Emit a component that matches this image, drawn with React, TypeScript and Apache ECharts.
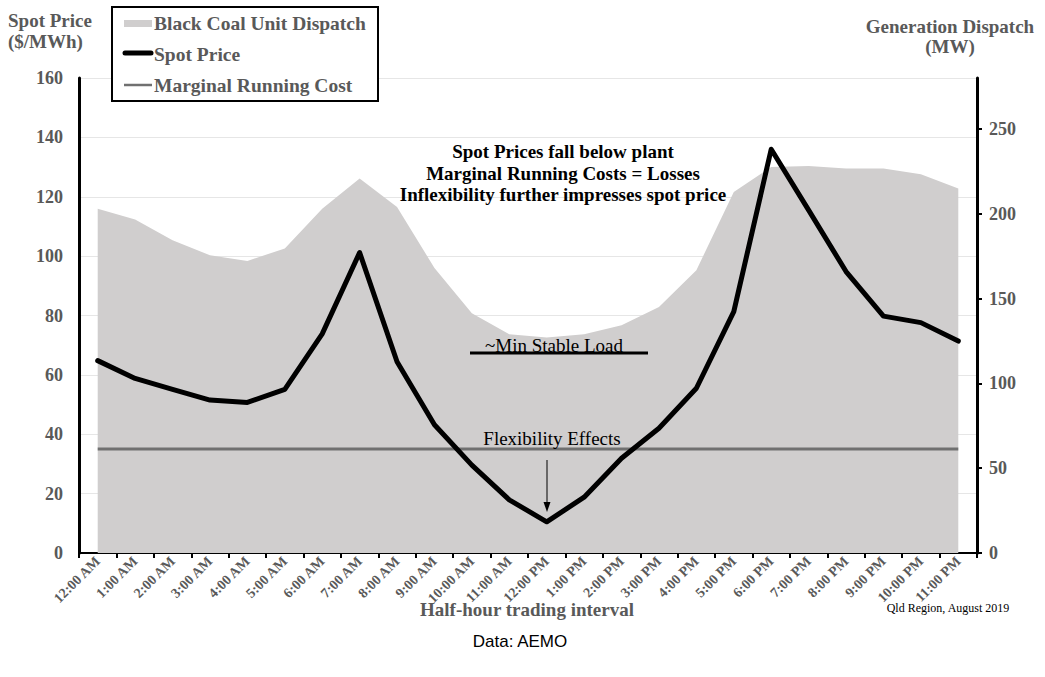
import React, { useEffect, useRef } from "react";
import * as echarts from "echarts";

const hours = [
  "12:00 AM", "1:00 AM", "2:00 AM", "3:00 AM", "4:00 AM", "5:00 AM",
  "6:00 AM", "7:00 AM", "8:00 AM", "9:00 AM", "10:00 AM", "11:00 AM",
  "12:00 PM", "1:00 PM", "2:00 PM", "3:00 PM", "4:00 PM", "5:00 PM",
  "6:00 PM", "7:00 PM", "8:00 PM", "9:00 PM", "10:00 PM", "11:00 PM",
];

// Black coal unit dispatch (MW), right axis
const coalDispatch = [
  203, 196.6, 184.4, 175.5, 172.2, 179.5, 203, 220.7, 204, 168, 141.4, 129,
  127, 129, 134.3, 145, 166.7, 212.8, 227.6, 228.2, 226.6, 226.6, 223.3, 214.8,
];

// Spot price ($/MWh), left axis
const spotPrice = [
  64.8, 58.8, 55.1, 51.5, 50.7, 55.1, 73.8, 101.2, 64.4, 43.2, 29.6, 17.9,
  10.5, 18.8, 31.9, 42, 55.5, 81.3, 136, 115.5, 94.8, 79.8, 77.6, 71.4,
];

// Marginal running cost ($/MWh)
const marginalCost = [
  35, 35, 35, 35, 35, 35, 35, 35, 35, 35, 35, 35,
  35, 35, 35, 35, 35, 35, 35, 35, 35, 35, 35, 35,
];

const leftTicks = [0, 20, 40, 60, 80, 100, 120, 140, 160];
const rightTicks = [0, 50, 100, 150, 200, 250];

const SERIF = "'Times New Roman', 'Liberation Serif', serif";
const GRAY = "#595959";
const AREA = "#d0cece";
const MRC = "#707070";

export default function App() {
  const ref = useRef<HTMLDivElement>(null);
  useEffect(() => {
    if (!ref.current) return;
    const chart = echarts.init(ref.current, undefined, { renderer: "svg" });
    const option: any = {
      animation: false,
      backgroundColor: "#ffffff",
      textStyle: { fontFamily: SERIF },
      grid: { left: 79, right: 68, top: 78, bottom: 124, containLabel: false },
      xAxis: {
        type: "category",
        data: hours,
        boundaryGap: true,
        axisLine: { show: true, lineStyle: { color: "#000", width: 2 } },
        axisTick: { show: true, length: 5, lineStyle: { color: "#000", width: 2 } },
        axisLabel: {
          interval: 0,
          rotate: 45,
          margin: 6,
          color: GRAY,
          fontWeight: "bold",
          fontSize: 14,
          fontFamily: SERIF,
        },
        splitLine: { show: false },
      },
      yAxis: [
        {
          type: "value",
          min: leftTicks[0],
          max: leftTicks[leftTicks.length - 1],
          interval: 20,
          position: "left",
          axisLine: { show: true, lineStyle: { color: "#000", width: 3 } },
          axisTick: { show: false },
          axisLabel: {
            margin: 16,
            color: GRAY,
            fontWeight: "bold",
            fontSize: 18,
            fontFamily: SERIF,
          },
          splitLine: { show: true, lineStyle: { color: "#e6e6e6", width: 1 } },
        },
        {
          type: "value",
          min: 0,
          max: 280,
          interval: 50,
          position: "right",
          axisLine: { show: true, lineStyle: { color: "#000", width: 3 } },
          axisTick: {
            show: true,
            length: 5,
            customValues: rightTicks,
            lineStyle: { color: "#000", width: 2 },
          },
          axisLabel: {
            margin: 12,
            color: GRAY,
            fontWeight: "bold",
            fontSize: 18,
            fontFamily: SERIF,
            customValues: rightTicks,
            formatter: (v: number) => (v % 50 === 0 ? String(v) : ""),
          },
          splitLine: { show: false },
        },
      ],
      series: [
        {
          name: "Black Coal Unit Dispatch",
          type: "line",
          yAxisIndex: 1,
          data: coalDispatch,
          showSymbol: false,
          symbol: "none",
          lineStyle: { width: 0, color: AREA },
          areaStyle: { color: AREA, opacity: 1 },
          z: 1,
        },
        {
          name: "Marginal Running Cost",
          type: "line",
          yAxisIndex: 0,
          data: marginalCost,
          showSymbol: false,
          symbol: "none",
          lineStyle: { width: 3, color: MRC },
          z: 2,
        },
        {
          name: "Spot Price",
          type: "line",
          yAxisIndex: 0,
          data: spotPrice,
          showSymbol: false,
          symbol: "none",
          lineStyle: { width: 5, color: "#000", cap: "round", join: "round" },
          z: 3,
        },
      ],
      graphic: [
        // axis titles
        {
          type: "text",
          left: 53 - 45,
          top: 10,
          style: {
            text: "Spot Price\n($/MWh)",
            width: 90,
            align: "center",
            fill: GRAY,
            font: `bold 19px ${SERIF}`,
            lineHeight: 21,
          },
          z: 10,
        },
        {
          type: "text",
          x: 950,
          y: 16,
          style: {
            text: "Generation Dispatch\n(MW)",
            align: "center",
            verticalAlign: "top",
            fill: GRAY,
            font: `bold 19px ${SERIF}`,
            lineHeight: 20,
          },
          z: 10,
        },
        // legend
        {
          type: "rect",
          shape: { x: 112, y: 7, width: 266, height: 94 },
          style: { fill: "#fff", stroke: "#000", lineWidth: 2 },
          z: 20,
        },
        {
          type: "rect",
          shape: { x: 124, y: 20, width: 28, height: 7 },
          style: { fill: AREA },
          z: 21,
        },
        {
          type: "line",
          shape: { x1: 125, y1: 53, x2: 151, y2: 53 },
          style: { stroke: "#000", lineWidth: 5, lineCap: "round" },
          z: 21,
        },
        {
          type: "line",
          shape: { x1: 124, y1: 85, x2: 152, y2: 85 },
          style: { stroke: MRC, lineWidth: 2.5 },
          z: 21,
        },
        {
          type: "text",
          x: 154,
          y: 23,
          style: {
            text: "Black Coal Unit Dispatch",
            verticalAlign: "middle",
            fill: GRAY,
            font: `bold 19.5px ${SERIF}`,
          },
          z: 21,
        },
        {
          type: "text",
          x: 154,
          y: 54,
          style: {
            text: "Spot Price",
            verticalAlign: "middle",
            fill: GRAY,
            font: `bold 19.5px ${SERIF}`,
          },
          z: 21,
        },
        {
          type: "text",
          x: 154,
          y: 85,
          style: {
            text: "Marginal Running Cost",
            verticalAlign: "middle",
            fill: GRAY,
            font: `bold 19.5px ${SERIF}`,
          },
          z: 21,
        },
        // central annotation
        {
          type: "text",
          x: 563,
          y: 173,
          style: {
            text:
              "Spot Prices fall below plant\nMarginal Running Costs = Losses\nInflexibility further impresses spot price",
            align: "center",
            verticalAlign: "middle",
            fill: "#000",
            font: `bold 19px ${SERIF}`,
            lineHeight: 21.5,
          },
          z: 10,
        },
        // min stable load
        {
          type: "text",
          x: 554,
          y: 345,
          style: {
            text: "~Min Stable Load",
            align: "center",
            verticalAlign: "middle",
            fill: "#000",
            font: `19px ${SERIF}`,
          },
          z: 10,
        },
        {
          type: "line",
          shape: { x1: 470, y1: 353, x2: 648, y2: 353 },
          style: { stroke: "#000", lineWidth: 3 },
          z: 10,
        },
        // flexibility effects
        {
          type: "text",
          x: 552,
          y: 438,
          style: {
            text: "Flexibility Effects",
            align: "center",
            verticalAlign: "middle",
            fill: "#000",
            font: `19px ${SERIF}`,
          },
          z: 10,
        },
        {
          type: "line",
          shape: { x1: 547, y1: 460, x2: 547, y2: 505 },
          style: { stroke: "#000", lineWidth: 1 },
          z: 10,
        },
        {
          type: "polygon",
          shape: { points: [[543.5, 502], [550.5, 502], [547, 512]] },
          style: { fill: "#000" },
          z: 10,
        },
        // footer texts
        {
          type: "text",
          x: 527,
          y: 609,
          style: {
            text: "Half-hour trading interval",
            align: "center",
            verticalAlign: "middle",
            fill: GRAY,
            font: `bold 19px ${SERIF}`,
          },
          z: 10,
        },
        {
          type: "text",
          x: 948,
          y: 608,
          style: {
            text: "Qld Region, August 2019",
            align: "center",
            verticalAlign: "middle",
            fill: "#000",
            font: `12px ${SERIF}`,
          },
          z: 10,
        },
        {
          type: "text",
          x: 520,
          y: 641,
          style: {
            text: "Data: AEMO",
            align: "center",
            verticalAlign: "middle",
            fill: "#000",
            font: `17px 'Liberation Sans', Arial, sans-serif`,
          },
          z: 10,
        },
      ],
    };
    chart.setOption(option);
    return () => chart.dispose();
  }, []);
  return (
    <div
      ref={ref}
      style={{ position: "fixed", left: 0, top: 0, width: 1045, height: 677, background: "#fff" }}
    />
  );
}
